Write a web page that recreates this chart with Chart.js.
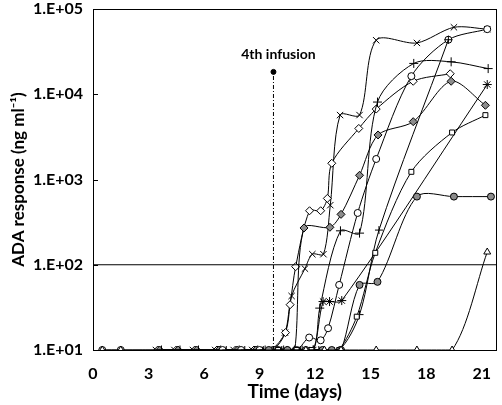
<!DOCTYPE html>
<html>
<head>
<meta charset="utf-8">
<script src="https://cdn.jsdelivr.net/npm/chart.js@4.4.0/dist/chart.umd.min.js"></script>
<style>
  html, body { margin: 0; padding: 0; background: #fff; }
  #wrap { width: 502px; height: 405px; }
</style>
</head>
<body>
<div id="wrap"><canvas id="grafik"></canvas></div>
<script>
// ---- axis ticks / labels ----
const xTicks = [0, 3, 6, 9, 12, 15, 18, 21];
const yTicks = [10, 100, 1000, 10000, 100000];
const yTickLabels = ['1.E+01', '1.E+02', '1.E+03', '1.E+04', '1.E+05'];

// ---- series (day, ng/ml) ----
const crossDays = [3.4, 4.4, 5.4, 6.6, 7.6, 8.6, 9.6, 10.37, 10.73, 11.45, 11.85, 12.45, 12.82, 13.35, 14.4, 15.3, 17.5, 19.5, 21.3];
const crossVals = [10, 10, 10, 10, 10, 10, 10, 16, 43, 90, 133, 133, 500, 5700, 5700, 43000, 40000, 61000, 58000];

const openDiamondDays = [3.5, 4.5, 5.5, 6.7, 7.7, 8.7, 9.7, 10.4, 10.65, 10.95, 11.7, 12.3, 12.66, 12.9, 14.36, 15.3, 17.3, 19.3];
const openDiamondVals = [10, 10, 10, 10, 10, 10, 10, 16, 34, 95, 430, 430, 600, 1550, 3970, 6700, 14200, 17400];

const greyDiamondDays = [3.6, 4.6, 5.6, 6.8, 7.8, 8.8, 9.8, 10.5, 10.9, 11.4, 12.8, 13.4, 14.4, 15.4, 17.3, 19.35, 21.2];
const greyDiamondVals = [10, 10, 10, 10, 10, 10, 10, 10, 10, 270, 275, 390, 1120, 3330, 4770, 14200, 7420];

const plusDays = [3.7, 4.7, 5.7, 6.9, 7.9, 8.9, 9.9, 10.9, 11.9, 12.25, 13.37, 14.4, 15.37, 17.33, 19.35, 21.35];
const plusVals = [10, 10, 10, 10, 10, 10, 10, 10, 10, 31, 250, 235, 8100, 23000, 24000, 20000];

const circleDays = [0.5, 1.5, 7.0, 8.0, 9.0, 10.0, 11.0, 11.68, 12.3, 12.7, 13.3, 14.3, 15.3, 17.2, 19.2, 21.3];
const circleVals = [10, 10, 10, 10, 10, 10, 10, 14, 13, 18, 58, 405, 1740, 16300, 43600, 58000];

const plus2Days = [7.2, 8.2, 9.2, 10.2, 11.2, 12.2, 13.3, 14.4, 15.45, 19.2];
const plus2Vals = [10, 10, 10, 10, 10, 10, 10, 26, 255, 43600];

const starDays = [9.3, 10.3, 11.3, 11.9, 12.43, 12.78, 13.44, 21.3];
const starVals = [10, 10, 10, 10, 37, 37, 38, 13000];

const squareDays = [10.0, 11.0, 11.8, 12.4, 12.9, 13.3, 14.25, 15.25, 17.2, 19.4, 21.2];
const squareVals = [10, 10, 10, 10, 10, 10, 24.6, 138, 1230, 3560, 5690];

const greyCircleDays = [9.5, 10.5, 11.5, 12.4, 12.9, 13.4, 14.4, 15.37, 17.5, 19.5, 21.5];
const greyCircleVals = [10, 10, 10, 10, 10, 10, 58, 63, 630, 630, 630];

const triangleDays = [0.5, 1.5, 11.5, 12.5, 13.4, 15.3, 17.5, 19.4, 21.3];
const triangleVals = [10, 10, 10, 10, 10, 10, 10, 10, 141];

// cut point line and infusion marker
const cutDays = [0, 21.8];
const cutVals = [100, 100];
const infusionDays = [9.75, 9.75];
const infusionVals = [10, 18300];
const infusionLabel = '4th infusion';

const GREY = '#8c8c8c';
const FONT = "Lato, 'Open Sans', sans-serif";

function toPoints(xs, ys) {
  return xs.map((x, i) => ({ x: x, y: ys[i] }));
}

function seri(xs, ys, style, fill, radius) {
  return {
    data: toPoints(xs, ys),
    borderColor: '#000',
    borderWidth: 1,
    tension: 0.3,
    pointStyle: style,
    pointRadius: radius || 3.5,
    pointBackgroundColor: fill,
    pointBorderColor: '#000',
    pointBorderWidth: 1
  };
}

const datasets = [
  { data: toPoints(cutDays, cutVals), borderColor: '#000', borderWidth: 1, pointRadius: 0, tension: 0 },
  {
    data: toPoints(infusionDays, infusionVals), borderColor: '#000', borderWidth: 1, borderDash: [4, 2, 1, 2],
    tension: 0, pointRadius: [0, 2.5], pointBackgroundColor: '#000', pointBorderColor: '#000'
  },
  seri(triangleDays, triangleVals, 'triangle', '#fff', 4),
  seri(greyCircleDays, greyCircleVals, 'circle', GREY, 3.5),
  seri(squareDays, squareVals, 'rect', '#fff', 3.5),
  seri(starDays, starVals, 'star', '#fff', 4.5),
  seri(plus2Days, plus2Vals, 'cross', '#fff', 4),
  seri(circleDays, circleVals, 'circle', '#fff', 3.5),
  seri(plusDays, plusVals, 'cross', '#fff', 4.5),
  seri(greyDiamondDays, greyDiamondVals, 'rectRot', GREY, 4),
  seri(openDiamondDays, openDiamondVals, 'rectRot', '#fff', 4),
  seri(crossDays, crossVals, 'crossRot', '#fff', 4.5)
];

// kotak + tick dalam + label infus
const bingkai = {
  id: 'bingkai',
  beforeDatasetsDraw(chart) {
    const { ctx, chartArea: a, scales } = chart;
    ctx.save();
    ctx.strokeStyle = '#000';
    ctx.lineWidth = 1;
    ctx.strokeRect(Math.round(a.left) + 0.5, Math.round(a.top) + 0.5, Math.round(a.right - a.left) - 1, Math.round(a.bottom - a.top));
    yTicks.forEach(v => {
      const y = Math.round(scales.y.getPixelForValue(v)) + 0.5;
      ctx.beginPath();
      ctx.moveTo(a.left, y);
      ctx.lineTo(a.left + 5, y);
      ctx.stroke();
    });
    const ix = scales.x.getPixelForValue(infusionDays[1]);
    const iy = scales.y.getPixelForValue(infusionVals[1]);
    ctx.fillStyle = '#000';
    ctx.font = 'bold 14px ' + FONT;
    ctx.textAlign = 'center';
    ctx.textBaseline = 'middle';
    ctx.fillText(infusionLabel, ix + 5, iy - 17);
    ctx.restore();
  }
};

new Chart(document.getElementById('grafik'), {
  type: 'line',
  data: { datasets: datasets },
  plugins: [bingkai],
  options: {
    responsive: true,
    maintainAspectRatio: false,
    animation: false,
    devicePixelRatio: 1,
    layout: { padding: { top: 9, right: 2, left: 0, bottom: 0 } },
    plugins: { legend: { display: false }, tooltip: { enabled: false } },
    scales: {
      x: {
        type: 'linear',
        min: 0,
        max: 21.8,
        afterFit: s => { s.height = 55; s.paddingLeft = 0; s.paddingRight = 0; },
        afterBuildTicks: s => { s.ticks = xTicks.map(v => ({ value: v })); },
        grid: { display: false, drawTicks: false },
        border: { display: false },
        ticks: { padding: 14, color: '#000', font: { family: FONT, size: 16, weight: 'bold' } },
        title: {
          display: true, text: 'Time (days)', color: '#000',
          padding: { top: 0, bottom: 2 },
          font: { family: FONT, size: 19, weight: 'bold' }
        }
      },
      y: {
        type: 'logarithmic',
        min: 10,
        max: 100000,
        afterFit: s => { s.width = 93; s.paddingTop = 0; s.paddingBottom = 0; },
        afterBuildTicks: s => { s.ticks = yTicks.map(v => ({ value: v })); },
        grid: { display: false, drawTicks: false },
        border: { display: false },
        ticks: {
          padding: 10, color: '#000',
          font: { family: FONT, size: 16, weight: 'bold' },
          callback: v => { const i = yTicks.indexOf(v); return i >= 0 ? yTickLabels[i] : ''; }
        },
        title: {
          display: true, text: 'ADA response (ng ml\u207B\u00B9)', color: '#000',
          padding: { top: 8, bottom: 0 },
          font: { family: FONT, size: 17, weight: 'bold' }
        }
      }
    }
  }
});
</script>
</body>
</html>
